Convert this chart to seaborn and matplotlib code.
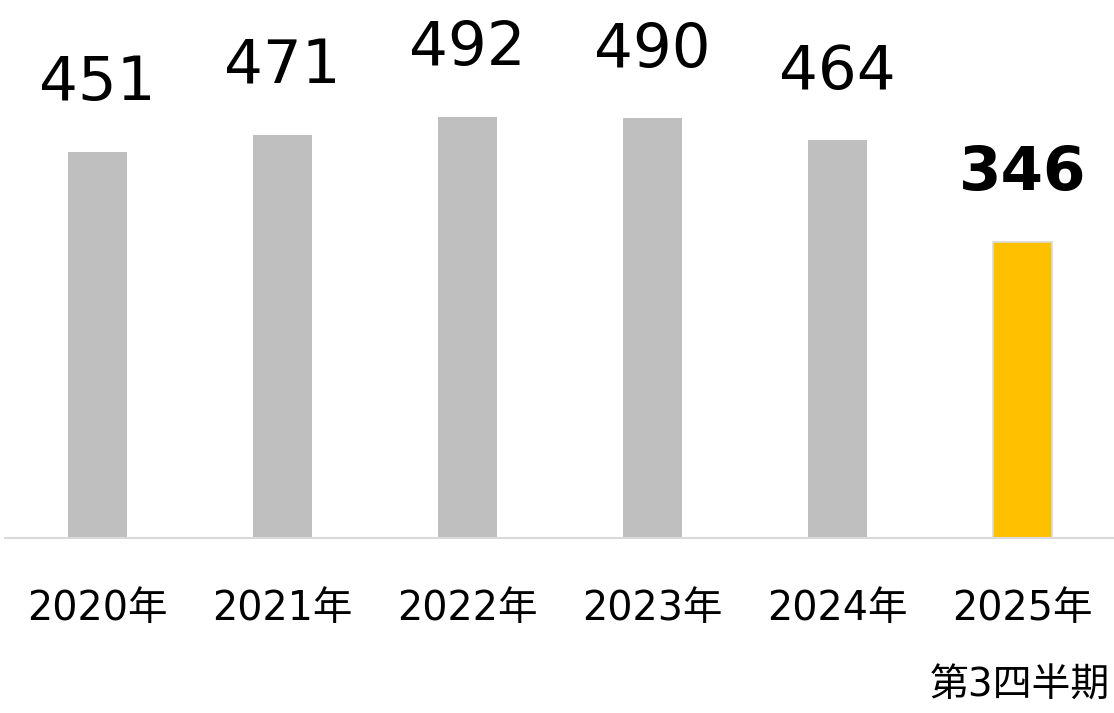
import matplotlib
matplotlib.use("Agg")
import matplotlib.pyplot as plt
import seaborn as sns
import pandas as pd

categories = ["2020年", "2021年", "2022年", "2023年", "2024年", "2025年"]
values = [451, 471, 492, 490, 464, 346]
bar_colors = ["#BFBFBF", "#BFBFBF", "#BFBFBF", "#BFBFBF", "#BFBFBF", "#FFC000"]
footnote = "第3四半期"

sns.set_theme(style="white")
plt.rcParams['font.family'] = ['DejaVu Sans', 'Noto Sans CJK JP']

df = pd.DataFrame({"year": categories, "value": values})

fig = plt.figure(figsize=(11.14, 7.13), dpi=100)
ax = fig.add_axes([5/1114, 175/713, 1110/1114, 538/713])

sns.barplot(data=df, x="year", y="value", hue="year", palette=bar_colors,
            legend=False, width=0.32, ax=ax, saturation=1)

for i, p in enumerate(ax.patches):
    if i == len(values) - 1:
        p.set_edgecolor("#D9D9D9")
        p.set_linewidth(1.2)
    else:
        p.set_edgecolor("none")

ax.set_xlim(-0.5, len(categories) - 0.5)
ax.set_ylim(0, 628)

for i, v in enumerate(values):
    last = i == len(values) - 1
    ax.annotate(str(v), xy=(i, v), xytext=(0, 37), textcoords="offset points",
                ha="center", va="baseline", fontsize=44 if last else 44,
                fontweight="bold" if last else "normal", color="black")

ax.set_xlabel("")
ax.set_ylabel("")
ax.set_yticks([])
ax.tick_params(axis="x", length=0, pad=37, labelsize=28.5, labelcolor="black")
for s in ["top", "left", "right"]:
    ax.spines[s].set_visible(False)
ax.spines["bottom"].set_color("#D9D9D9")
ax.spines["bottom"].set_linewidth(1.5)

fig.text(1110/1114, 1 - 697/713, footnote, ha="right", va="baseline",
         fontsize=28, color="black")

fig.savefig("out.png", dpi=100)
